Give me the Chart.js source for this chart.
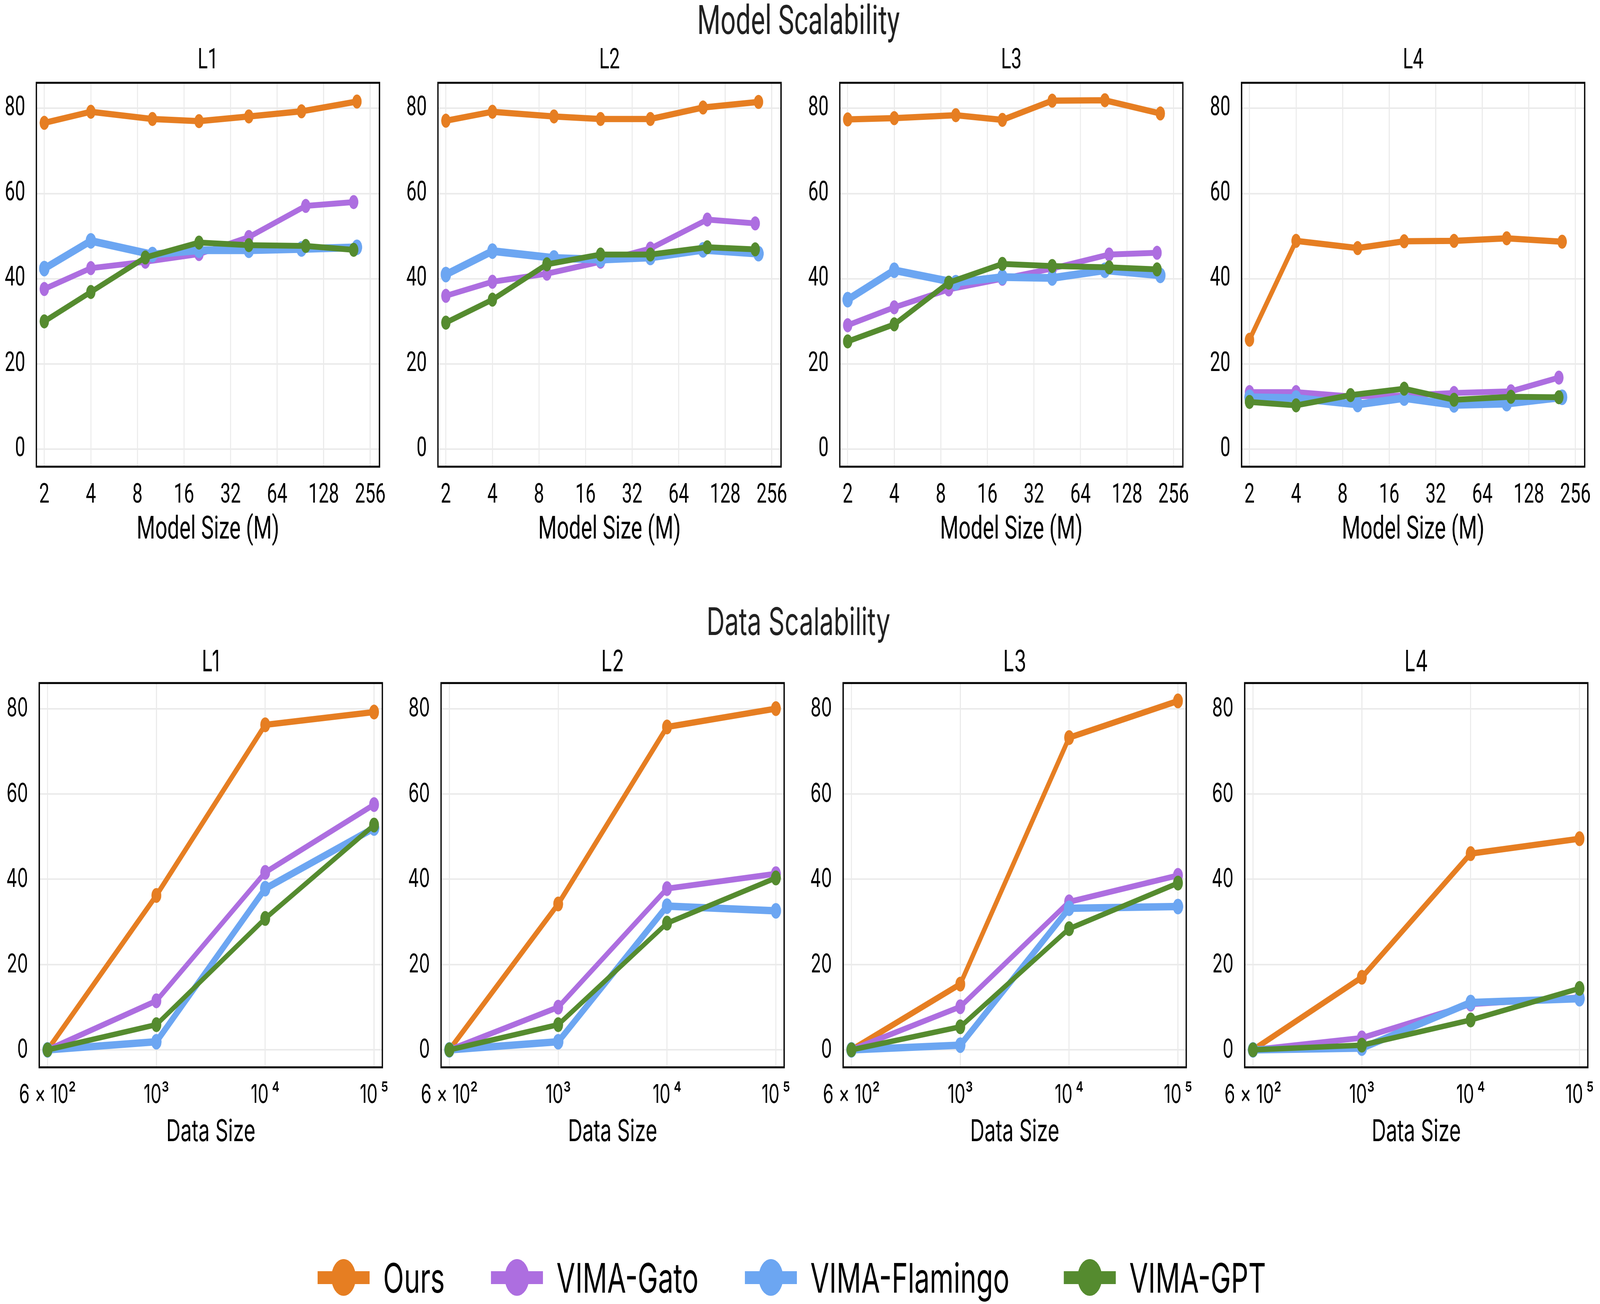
<!DOCTYPE html>
<html>
<head>
<meta charset="utf-8">
<script src="https://cdn.jsdelivr.net/npm/chart.js@4.4.1/dist/chart.umd.min.js"></script>
<style>
  html, body { margin: 0; padding: 0; background: #fff; overflow: hidden; }
  #fig { position: absolute; left: 0; top: 0; width: 6156px; height: 3339px; transform-origin: 0 0; background: #fff; }
  canvas { position: absolute; }
  .suptitle { position: absolute; left: 3072px; transform: translateX(-50%); white-space: nowrap; line-height: 1; color: #222; }
  #model-title { top: -9px; font: 103px Roboto; }
  #data-title { top: 1532px; font: 97px Inter; }
  .legend-item { position: absolute; top: 3211px; height: 120px; display: flex; align-items: center; }
  .legend-line { position: relative; width: 200px; height: 33px; }
  .legend-dot { position: absolute; left: 53px; top: -30.5px; width: 94px; height: 94px; border-radius: 50%; }
  .legend-text { margin-left: 52px; font: 105px Inter; line-height: 1; color: #000; white-space: nowrap; }
</style>
</head>
<body>
<div id="fig">
  <div class="suptitle" id="model-title">Model Scalability</div>
  <div class="suptitle" id="data-title">Data Scalability</div>
</div>
<script>
const levels = ['L1', 'L2', 'L3', 'L4'];
const seriesNames = ['Ours', 'VIMA-Gato', 'VIMA-Flamingo', 'VIMA-GPT'];
const yTicks = [0, 20, 40, 60, 80];

// model scalability (x = model size in M)
const modelSizeTicks = [2, 4, 8, 16, 32, 64, 128, 256];
const oursModelSizes = [2, 4, 10, 20, 42, 92, 210];
const gatoModelSizes = [2, 4, 9, 20, 42, 98, 200];
const flamingoModelSizes = [2, 4, 10, 20, 42, 92, 210];
const gptModelSizes = [2, 4, 9, 20, 42, 98, 200];

const modelOurs = [
  [76.6, 79.2, 77.5, 77.0, 78.1, 79.3, 81.6],
  [77.1, 79.2, 78.1, 77.5, 77.5, 80.2, 81.5],
  [77.4, 77.7, 78.4, 77.3, 81.8, 81.9, 78.8],
  [25.7, 48.9, 47.2, 48.8, 48.9, 49.5, 48.7],
];
const modelGato = [
  [37.6, 42.5, 44.0, 45.8, 49.8, 57.1, 58.0],
  [36.0, 39.3, 41.2, 44.0, 47.1, 53.9, 53.0],
  [29.1, 33.3, 37.5, 40.0, 42.4, 45.7, 46.1],
  [13.4, 13.4, 12.4, 12.6, 13.2, 13.6, 16.8],
];
const modelFlamingo = [
  [42.4, 48.9, 45.7, 46.7, 46.7, 47.0, 47.4],
  [41.0, 46.5, 44.9, 44.5, 45.0, 46.8, 45.9],
  [35.1, 42.0, 39.1, 40.4, 40.2, 42.0, 40.8],
  [12.2, 12.0, 10.5, 12.0, 10.4, 10.7, 12.2],
];
const modelGpt = [
  [30.0, 36.9, 45.0, 48.5, 47.9, 47.7, 46.8],
  [29.7, 35.1, 43.4, 45.7, 45.7, 47.4, 46.9],
  [25.3, 29.3, 39.1, 43.5, 43.0, 42.7, 42.2],
  [11.1, 10.3, 12.7, 14.2, 11.6, 12.3, 12.2],
];

// data scalability (x = data size, evenly spaced)
const dataSizeTicks = ['6 × 10²', '10³', '10\u2009⁴', '10\u2009⁵'];
const dataOurs = [
  [0, 36.2, 76.2, 79.2],
  [0, 34.2, 75.7, 80.0],
  [0, 15.4, 73.2, 81.8],
  [0, 17.0, 46.0, 49.5],
];
const dataGato = [
  [0, 11.5, 41.6, 57.5],
  [0, 10.0, 37.8, 41.3],
  [0, 10.1, 34.7, 40.9],
  [0, 2.8, 10.7, 12.3],
];
const dataFlamingo = [
  [0, 1.9, 37.8, 52.0],
  [0, 1.9, 33.7, 32.6],
  [0, 1.1, 33.2, 33.6],
  [0, 0.4, 11.1, 12.0],
];
const dataGpt = [
  [0, 5.9, 30.8, 52.7],
  [0, 5.9, 29.7, 40.3],
  [0, 5.4, 28.4, 39.1],
  [0, 1.1, 7.0, 14.4],
];

const colors = ['#e67e22', '#ad6ee0', '#6ca6f2', '#558b2f'];
const modelSizes = [oursModelSizes, gatoModelSizes, flamingoModelSizes, gptModelSizes];
const modelValues = [modelOurs, modelGato, modelFlamingo, modelGpt];
const dataValues = [dataOurs, dataGato, dataFlamingo, dataGpt];

// layout (pixel positions of each plot area, in 6156x3339 figure coordinates)
const modelPanelLeft = [140, 1685, 3231, 4777];
const dataPanelLeft = [151, 1697, 3244, 4789];
const legendX = [1222, 1889, 2866, 4093];

// the browser window can come out narrower than 6156, so stretch the figure onto the whole window
const fig = document.getElementById('fig');
const sx = window.innerWidth / 6156;
const sy = window.innerHeight / 3339;
fig.style.transform = `scale(${sx}, ${sy})`;

Chart.defaults.color = '#000';
Chart.defaults.animation = false;

// black box around the plot area
const framePlugin = {
  id: 'frame',
  afterDraw(chart) {
    const { ctx, chartArea: a } = chart;
    ctx.save();
    ctx.strokeStyle = '#000';
    ctx.lineWidth = 5;
    ctx.strokeRect(a.left, a.top, a.right - a.left, a.bottom - a.top);
    ctx.restore();
  },
};

function makeCanvas(left, top, width, height) {
  const canvas = document.createElement('canvas');
  canvas.width = width;
  canvas.height = height;
  canvas.style.left = left + 'px';
  canvas.style.top = top + 'px';
  fig.appendChild(canvas);
  return canvas.getContext('2d');
}

function gridOpts() {
  return { color: '#ebebeb', lineWidth: 4, drawTicks: false };
}

function yScale(family, size) {
  return {
    min: -4.1,
    max: 86,
    bounds: 'data',
    afterBuildTicks: (s) => { s.ticks = yTicks.map((v) => ({ value: v })); },
    ticks: { padding: 43, font: { family: family, size: size } },
    grid: gridOpts(),
    border: { display: false },
    afterFit: (s) => { s.width = 200; },
  };
}

function baseOptions(title, family, titleSize, padTop, padBottom) {
  return {
    responsive: false,
    devicePixelRatio: 1,
    events: [],
    layout: { padding: { right: 200 }, autoPadding: false },
    plugins: {
      legend: { display: false },
      tooltip: { enabled: false },
      title: {
        display: true,
        fullSize: false,
        text: title,
        color: '#000',
        font: { family: family, size: titleSize, weight: 'normal' },
        padding: { top: padTop, bottom: padBottom },
      },
    },
  };
}

function makeDatasets(pointsFor, lineWidths, radii) {
  return seriesNames.map((name, s) => ({
    label: name,
    data: pointsFor(s),
    borderColor: colors[s],
    backgroundColor: colors[s],
    borderWidth: lineWidths[s],
    pointRadius: radii[s],
    pointBorderWidth: 0,
    order: 4 - s, // GPT on top, Ours at the bottom
  }));
}

function modelChart(i) {
  const ctx = makeCanvas(modelPanelLeft[i] - 200, 62, 1720, 1346);
  const datasets = makeDatasets(
    (s) => modelSizes[s].map((x, k) => ({ x: x, y: modelValues[s][i][k] })),
    [16, 15, 20, 15],
    [18, 18, 20, 18]
  );
  const options = baseOptions(levels[i], 'Roboto', 72, 51.8, 11.8);
  options.scales = {
    x: {
      type: 'logarithmic',
      min: 1.778,
      max: 293.7,
      bounds: 'data',
      afterBuildTicks: (s) => { s.ticks = modelSizeTicks.map((v) => ({ value: v })); },
      ticks: {
        callback: (v) => String(v),
        autoSkip: false,
        maxRotation: 0,
        padding: 32,
        major: { enabled: false },
        font: { family: 'Roboto', size: 70 },
      },
      grid: gridOpts(),
      border: { display: false },
      title: { display: true, text: 'Model Size (M)', font: { family: 'Roboto', size: 82 }, padding: 0 },
      afterFit: (s) => { s.height = 213; },
    },
    y: yScale('Roboto', 70),
  };
  new Chart(ctx, { type: 'line', data: { datasets: datasets }, options: options, plugins: [framePlugin] });
}

function dataChart(i) {
  const ctx = makeCanvas(dataPanelLeft[i] - 200, 1599, 1720, 1346);
  const datasets = makeDatasets(
    (s) => dataValues[s][i].map((y, k) => ({ x: k, y: y })),
    [16, 15, 19, 14],
    [19, 19, 20, 19]
  );
  const options = baseOptions(levels[i], 'Inter', 75, 52, 8);
  options.scales = {
    x: {
      type: 'linear',
      min: -0.076,
      max: 3.076,
      bounds: 'data',
      afterBuildTicks: (s) => { s.ticks = dataSizeTicks.map((t, k) => ({ value: k })); },
      ticks: {
        callback: (v) => dataSizeTicks[v],
        autoSkip: false,
        maxRotation: 0,
        padding: 32,
        font: { family: 'Inter', size: 66 },
      },
      grid: gridOpts(),
      border: { display: false },
      title: { display: true, text: 'Data Size', font: { family: 'Inter', size: 77 }, padding: 0 },
      afterFit: (s) => { s.height = 212; },
    },
    y: yScale('Inter', 66),
  };
  new Chart(ctx, { type: 'line', data: { datasets: datasets }, options: options, plugins: [framePlugin] });
}

for (let i = 0; i < levels.length; i++) {
  modelChart(i);
  dataChart(i);
}

// legend: line with a dot, like the matplotlib handles
seriesNames.forEach((name, s) => {
  const item = document.createElement('div');
  item.className = 'legend-item';
  item.style.left = legendX[s] + 'px';
  item.innerHTML =
    `<div class="legend-line" style="background:${colors[s]}">` +
    `<div class="legend-dot" style="background:${colors[s]}"></div></div>` +
    `<span class="legend-text">${name}</span>`;
  fig.appendChild(item);
});
</script>
</body>
</html>
